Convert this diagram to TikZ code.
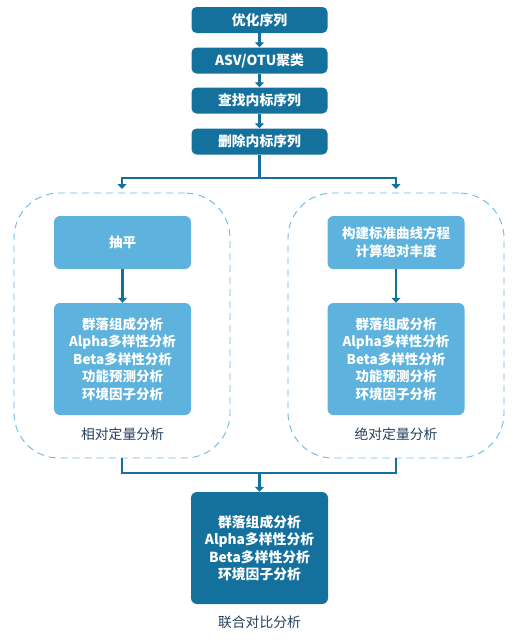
\documentclass[tikz,border=0pt]{standalone}
\usepackage{fontspec}
\setmainfont{Noto Sans CJK SC}
\usepackage{tikz}
\usetikzlibrary{arrows.meta}

\definecolor{azul}{HTML}{14719D}
\definecolor{celeste}{HTML}{5DB3DD}
\definecolor{trazo}{HTML}{6CB9E0}
\definecolor{rotulo}{HTML}{27425E}

\tikzset{
  paso/.style={draw=none, fill=azul, rounded corners=5pt, text=white,
    font=\bfseries\fontsize{13.8}{17.5}\selectfont, align=center,
    minimum width=136pt, minimum height=26pt, inner sep=0pt},
  claro/.style={draw=none, fill=celeste, rounded corners=6pt, text=white,
    font=\bfseries\fontsize{13.5}{17.5}\selectfont, align=center,
    minimum width=137pt, inner sep=0pt},
  grupo/.style={draw=trazo, dashed, dash pattern=on 7pt off 5pt, line width=0.9pt,
    rounded corners=45pt, minimum width=216pt, minimum height=265pt, inner sep=0pt},
  rot/.style={text=rotulo, font=\fontsize{13.8}{15}\selectfont, inner sep=0pt},
  flujo/.style={draw=azul, line width=2.8pt},
  flecha/.style={flujo, -{Triangle[width=9pt,length=5pt]}}
}

\begin{document}
\begin{tikzpicture}[x=1pt,y=-1pt]
    \useasboundingbox (0,0) rectangle (518,640);

    % Pasos iniciales
    \node[paso] (P1) at (259.5,20) {优化序列};
    \node[paso] (P2) at (259.5,60.5) {ASV/OTU聚类};
    \node[paso] (P3) at (259.5,100.5) {查找内标序列};
    \node[paso] (P4) at (259.5,141.5) {删除内标序列};

    \draw[flecha] (P1) -- (P2);
    \draw[flecha] (P2) -- (P3);
    \draw[flecha] (P3) -- (P4);

    % Grupos punteados
    \node[grupo] (GL) at (122,325.5) {};
    \node[grupo] (GR) at (396,325.5) {};

    % Lado izquierdo (relativo)
    \node[claro, minimum height=53pt] (L1) at (122.5,242.5) {抽平};
    \node[claro, minimum height=112pt] (L2) at (122.5,359) {群落组成分析\\Alpha多样性分析\\Beta多样性分析\\功能预测分析\\环境因子分析};
    \node[rot] (LT) at (122.5,434) {相对定量分析};

    % Lado derecho (absoluto)
    \node[claro, minimum height=53pt] (R1) at (396,242.5) {构建标准曲线方程\\计算绝对丰度};
    \node[claro, minimum height=112pt] (R2) at (396,359) {群落组成分析\\Alpha多样性分析\\Beta多样性分析\\功能预测分析\\环境因子分析};
    \node[rot] (RT) at (396,434) {绝对定量分析};

    \draw[flecha] (L1) -- (L2);
    \draw[flecha] (R1) -- (R2);

    % Bifurcacion
    \coordinate (div) at (259.5,178);
    \coordinate (iz) at (122,189);
    \coordinate (de) at (396,189);
    \draw[flujo] (P4) -- (div);
    \draw[flecha] (div) -| (iz);
    \draw[flecha] (div) -| (de);

    % Union
    \coordinate (un) at (259.5,473);
    \node[paso, minimum height=112pt, minimum width=137pt, rounded corners=6pt] (C) at (259.5,548)
        {群落组成分析\\Alpha多样性分析\\Beta多样性分析\\环境因子分析};
    \node[rot] (CT) at (259.5,622) {联合对比分析};

    \draw[flujo] (GL.south) |- (un);
    \draw[flujo] (GR.south) |- (un);
    \draw[flecha] (un) -- (C);
\end{tikzpicture}
\end{document}
